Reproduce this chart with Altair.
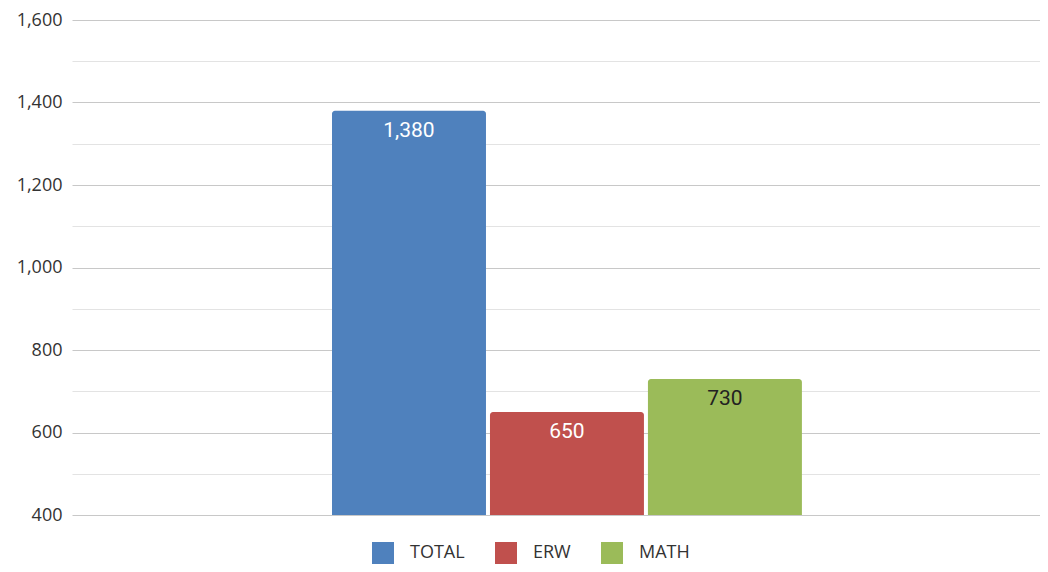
import altair as alt
import pandas as pd

series = ["TOTAL", "ERW", "MATH"]
values = [1380, 650, 730]
colors = ["#4F81BD", "#C0504D", "#9BBB59"]
y_min, y_max = 400, 1600
tick_values = list(range(400, 1700, 100))

df = pd.DataFrame({"series": series, "value": values})

x_enc = alt.X(
    "group:N",
    axis=None,
    scale=alt.Scale(paddingInner=0, paddingOuter=0.53, align=0.522),
)
xo_enc = alt.XOffset(
    "series:N",
    sort=series,
    scale=alt.Scale(paddingInner=0.0253, paddingOuter=0),
)

base = alt.Chart(df).transform_calculate(group="'all'")

bars = base.mark_bar(cornerRadiusTopLeft=3, cornerRadiusTopRight=3).encode(
    x=x_enc,
    xOffset=xo_enc,
    y=alt.Y(
        "value:Q",
        scale=alt.Scale(domain=[y_min, y_max], zero=False, nice=False),
        axis=alt.Axis(
            values=tick_values,
            title=None,
            labelExpr="datum.value % 200 === 0 ? format(datum.value, ',') : ''",
            labelFont="Open Sans",
            labelFontSize=18,
            labelColor="#333333",
            labelPadding=10,
            ticks=False,
            domain=False,
            grid=True,
            gridColor={
                "condition": {"test": "datum.value % 200 === 0", "value": "#c8c8c8"},
                "value": "#e3e3e3",
            },
            gridWidth=1,
        ),
    ),
    y2=alt.datum(y_min),
    color=alt.Color(
        "series:N",
        sort=series,
        scale=alt.Scale(domain=series, range=colors),
        legend=alt.Legend(
            title=None,
            orient="none",
            direction="horizontal",
            legendX=300,
            legendY=522,
            symbolType="square",
            symbolSize=484,
            symbolStrokeWidth=0,
            symbolOpacity=1,
            labelFont="Open Sans",
            labelFontSize=18,
            labelColor="#333333",
            labelOffset=16,
            columnPadding=30,
            padding=0,
        ),
    ),
)

labels = base.mark_text(
    font="Roboto", fontSize=21, baseline="alphabetic", align="center", dy=26
).encode(
    x=x_enc,
    xOffset=xo_enc,
    y=alt.Y("value:Q"),
    text=alt.Text("value:Q", format=","),
    color=alt.condition("datum.series === 'MATH'", alt.value("#222222"), alt.value("#ffffff")),
)

chart = (
    alt.layer(bars, labels)
    .properties(
        width=968,
        height=495,
        autosize=alt.AutoSizeParams(type="none"),
        padding={"left": 64, "top": 12, "right": 0, "bottom": 49},
        background="white",
    )
    .configure_view(stroke=None)
)

chart.save("out.html", embed_options={"renderer": "svg", "actions": False})
